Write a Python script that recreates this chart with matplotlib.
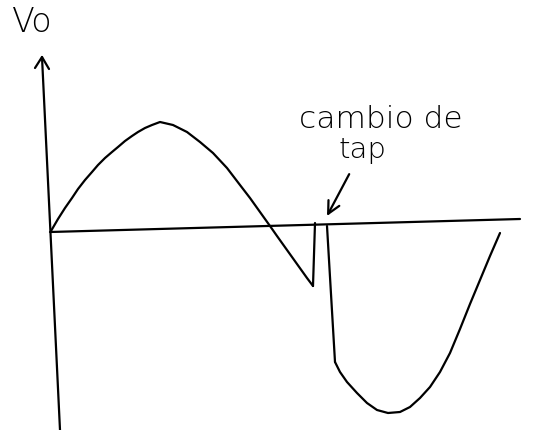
import matplotlib
matplotlib.use("Agg")
import matplotlib.pyplot as plt

# hand sketch, points (t to the right, Vo up, origin at axis crossing)
first_t = [0, 7, 14, 21, 27, 34, 41, 47, 54, 61, 67, 74, 81, 87, 94, 101, 109,
           122, 136, 149, 162, 176, 189, 199, 209, 219, 226, 236, 246, 256, 262]
first_v = [1, 13, 24, 34, 43, 52, 60, 67, 74, 80, 85, 91, 96, 100, 104, 107, 110,
           107, 100, 90, 79, 64, 47, 34, 20, 6, -4, -18, -32, -46, -54]

# tap change: jump back up to the axis, then down to the second branch
jump_t = [262, 264]
jump_v = [-54, 9]
drop_t = [276, 284]
drop_v = [6, -130]

second_t = [284, 289, 296, 306, 316, 326, 337, 349, 359, 369, 379, 389, 399,
            409, 419, 429, 439, 449]
second_v = [-130, -140, -150, -161, -171, -178, -181, -180, -175, -166, -155,
            -140, -121, -97, -72, -48, -24, -1]

# axes of the sketch
haxis_t = [-1, 469]
haxis_v = [0, 13]
vaxis_t = [-9, 9]
vaxis_v = [175, -198]

fig = plt.figure(figsize=(5.38, 4.30), dpi=100)
ax = fig.add_axes([0, 0, 1, 1])
ax.set_xlim(-51, 487)
ax.set_ylim(-198, 232)
ax.axis("off")

lw = 1.6
line = dict(color="black", lw=lw, solid_joinstyle="round", solid_capstyle="round")
ax.plot(haxis_t, haxis_v, **line)
ax.plot(vaxis_t, vaxis_v, **line)
# open arrow head on the vertical axis
ax.plot([-16, -9, -2], [164, 175, 163], **line)

ax.plot(first_t, first_v, **line)
ax.plot(jump_t, jump_v, **line)
ax.plot(drop_t, drop_v, **line)
ax.plot(second_t, second_v, **line)

txt = dict(color="black", fontweight="light", family="DejaVu Sans")
ax.text(-19, 209, "Vo", ha="center", va="center", fontsize=24, **txt)
ax.text(330, 104, "cambio de", ha="center", va="baseline", fontsize=22.5, **txt)
ax.annotate("tap", xy=(276, 16), xytext=(311, 82), ha="center", va="center",
            fontsize=21,
            arrowprops=dict(arrowstyle="->", color="black", lw=lw,
                            mutation_scale=22, shrinkA=6, shrinkB=0), **txt)

fig.savefig("out.png", dpi=100)
